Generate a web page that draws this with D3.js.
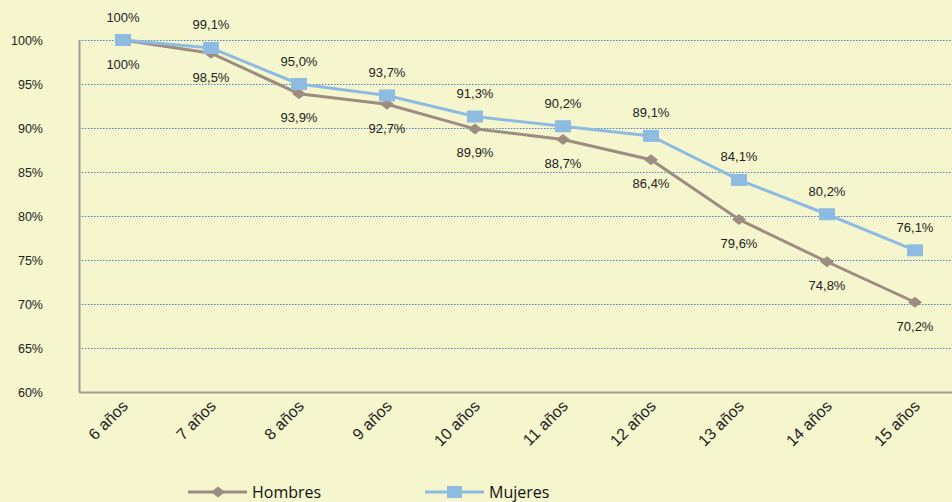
<!DOCTYPE html>
<html>
<head>
<meta charset="utf-8">
<script src="https://cdn.jsdelivr.net/npm/d3@7"></script>
<style>
  body { margin: 0; background: #F5F6CE; overflow: hidden; }
  svg { display: block; font-family: "Liberation Sans", Arial, sans-serif; }
</style>
</head>
<body>
<div class="chart"></div>
<script>
// Chart data
var categories = ["6 años", "7 años", "8 años", "9 años", "10 años", "11 años", "12 años", "13 años", "14 años", "15 años"];
var hombres = [100, 98.5, 93.9, 92.7, 89.9, 88.7, 86.4, 79.6, 74.8, 70.2];
var mujeres = [100, 99.1, 95.0, 93.7, 91.3, 90.2, 89.1, 84.1, 80.2, 76.1];
var yTicks = [60, 65, 70, 75, 80, 85, 90, 95, 100];

var svgWidth = 952;
var svgHeight = 502;

var margin = { top: 40, left: 79 };
var plotWidth = 880;
var plotHeight = 352;

var greyColor = "#9D8C80";
var blueColor = "#8EBBE2";

var svg = d3.select(".chart")
  .append("svg")
  .attr("width", svgWidth)
  .attr("height", svgHeight);

var chartGroup = svg.append("g")
  .attr("transform", `translate(${margin.left}, ${margin.top})`);

var xScale = d3.scaleBand()
  .domain(categories)
  .range([0, plotWidth]);

var yScale = d3.scaleLinear()
  .domain([60, 100])
  .range([plotHeight, 0]);

// gridlines
chartGroup.selectAll(".grid")
  .data(yTicks.filter(d => d > 60))
  .enter()
  .append("line")
  .attr("x1", 0)
  .attr("x2", plotWidth)
  .attr("y1", d => yScale(d) + 0.5)
  .attr("y2", d => yScale(d) + 0.5)
  .attr("stroke", "#4A7EC0")
  .attr("stroke-width", 1)
  .attr("stroke-dasharray", "1.5,1.5");

// y axis
var leftAxis = d3.axisLeft(yScale)
  .tickValues(yTicks)
  .tickSize(0)
  .tickPadding(36)
  .tickFormat(d => d + "%");

var yAxis = chartGroup.append("g").call(leftAxis);
yAxis.select(".domain").attr("stroke", "#A09A90").attr("stroke-width", 2);
yAxis.selectAll("text")
  .attr("fill", "#222")
  .style("font-size", "12.5px")
  .style("font-family", "Liberation Sans, Arial, sans-serif");

// x axis
var bottomAxis = d3.axisBottom(xScale).tickSize(0).tickFormat("");
var xAxis = chartGroup.append("g")
  .attr("transform", `translate(0, ${plotHeight})`)
  .call(bottomAxis);
xAxis.select(".domain").attr("stroke", "#A09A90").attr("stroke-width", 2);

chartGroup.append("g")
  .selectAll("text")
  .data(categories)
  .enter()
  .append("text")
  .attr("transform", d => `translate(${xScale(d) + xScale.bandwidth() / 2 + 6}, ${plotHeight + 15}) rotate(-45)`)
  .attr("text-anchor", "end")
  .attr("fill", "#222")
  .style("font-size", "16px")
  .text(d => d);

var xCenter = (d, i) => xScale(categories[i]) + xScale.bandwidth() / 2;

var line = d3.line()
  .x((d, i) => xCenter(d, i))
  .y(d => yScale(d));

// Hombres series
chartGroup.append("path")
  .datum(hombres)
  .attr("d", line)
  .attr("fill", "none")
  .attr("stroke", greyColor)
  .attr("stroke-width", 3);

chartGroup.selectAll(".hMark")
  .data(hombres)
  .enter()
  .append("path")
  .attr("d", "M0,-5.5L7,0L0,5.5L-7,0Z")
  .attr("transform", (d, i) => `translate(${xCenter(d, i)}, ${yScale(d)})`)
  .attr("fill", greyColor);

// Mujeres series
chartGroup.append("path")
  .datum(mujeres)
  .attr("d", line)
  .attr("fill", "none")
  .attr("stroke", blueColor)
  .attr("stroke-width", 3);

chartGroup.selectAll(".mMark")
  .data(mujeres)
  .enter()
  .append("rect")
  .attr("x", (d, i) => xCenter(d, i) - 8)
  .attr("y", d => yScale(d) - 6)
  .attr("width", 16)
  .attr("height", 12)
  .attr("fill", blueColor);

var fmt = d => d === 100 ? "100%" : d.toFixed(1).replace(".", ",") + "%";

// data labels
chartGroup.selectAll(".hLabel")
  .data(hombres)
  .enter()
  .append("text")
  .attr("x", (d, i) => xCenter(d, i))
  .attr("y", d => yScale(d) + 24)
  .attr("dy", "0.35em")
  .attr("text-anchor", "middle")
  .attr("fill", "#222")
  .style("font-size", "13px")
  .text(fmt);

chartGroup.selectAll(".mLabel")
  .data(mujeres)
  .enter()
  .append("text")
  .attr("x", (d, i) => xCenter(d, i))
  .attr("y", d => yScale(d) - 23)
  .attr("dy", "0.35em")
  .attr("text-anchor", "middle")
  .attr("fill", "#222")
  .style("font-size", "13px")
  .text(fmt);

// legend
var legendItems = [
  { name: "Hombres", x: 188, color: greyColor, shape: "diamond" },
  { name: "Mujeres", x: 425, color: blueColor, shape: "square" }
];

var legend = svg.append("g").attr("transform", "translate(0, 492)");

legendItems.forEach(function(item) {
  var g = legend.append("g").attr("transform", `translate(${item.x}, 0)`);
  g.append("line")
    .attr("x1", 0).attr("x2", 59)
    .attr("y1", 0).attr("y2", 0)
    .attr("stroke", item.color)
    .attr("stroke-width", 3);
  if (item.shape === "diamond") {
    g.append("path")
      .attr("d", "M0,-5.5L7,0L0,5.5L-7,0Z")
      .attr("transform", "translate(30, 0)")
      .attr("fill", item.color);
  } else {
    g.append("rect")
      .attr("x", 22).attr("y", -6)
      .attr("width", 15).attr("height", 12)
      .attr("fill", item.color);
  }
  g.append("text")
    .attr("x", 64)
    .attr("y", 0)
    .attr("dy", "0.35em")
    .attr("fill", "#111")
    .style("font-size", "16px")
    .style("font-family", "Open Sans, Noto Sans, sans-serif")
    .text(item.name);
});
</script>
</body>
</html>
